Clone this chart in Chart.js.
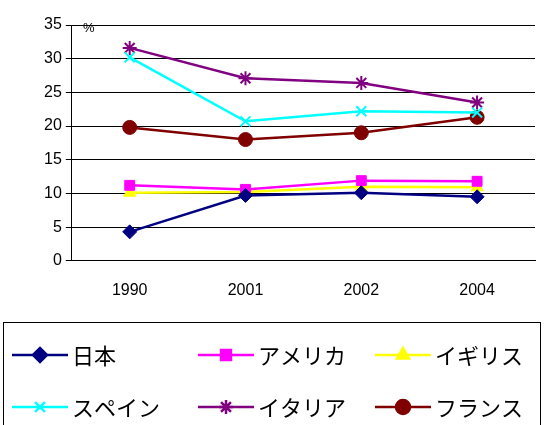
<!DOCTYPE html><html><head><meta charset="utf-8">
<script src="https://cdn.jsdelivr.net/npm/chart.js"></script>
<style>body{margin:0;background:#fff}#w{width:544px;height:425px}</style></head><body>
<div id="w"><canvas id="c"></canvas></div>
<script>
const categories=['1990','2001','2002','2004'];
const names=['日本','アメリカ','イギリス','スペイン','イタリア','フランス'];
const japan=[4.3,9.7,10.1,9.5];
const usa=[11.2,10.6,11.9,11.8];
const uk=[10.1,10.2,11.0,10.9];
const spain=[30.2,20.7,22.2,22.0];
const italy=[31.6,27.1,26.4,23.5];
const france=[19.8,18.0,19.0,21.3];
const yTicks=[0,5,10,15,20,25,30,35];
const cfg=[
 [japan,'#000080','rectRot',7],[usa,'#FF00FF','rect',7],[uk,'#FFFF00','triangle',7],
 [spain,'#00FFFF','crossRot',7],[italy,'#800080','star',7],[france,'#800000','circle',7]];
const datasets=cfg.map((c,i)=>({label:names[i],data:c[0],borderColor:c[1],backgroundColor:c[1],
 pointStyle:c[2],pointRadius:c[3],pointBorderWidth:c[2]==='crossRot'||c[2]==='star'?2:1,borderWidth:2.5,
 pointBorderColor:c[1]}));
const legendPlugin={id:'lg',afterDraw(ch){const x=ch.ctx;x.save();
 x.strokeStyle='#000';x.lineWidth=1;x.strokeRect(3.5,322.5,537,110);
 const cols=[12,198,375],rows=[355,407];
 ch.data.datasets.forEach((d,i)=>{const lx=cols[i%3],ly=rows[Math.floor(i/3)];
  x.strokeStyle=d.borderColor;x.lineWidth=2.5;x.beginPath();x.moveTo(lx,ly);x.lineTo(lx+56,ly);x.stroke();
  x.fillStyle=d.backgroundColor;x.strokeStyle=d.pointBorderColor;
  Chart.helpers.drawPoint(x,{pointStyle:d.pointStyle,radius:7,borderWidth:d.pointBorderWidth},lx+28,ly);
  x.fillStyle='#000';x.font='22px "Noto Sans CJK JP"';x.textBaseline='middle';x.fillText(d.label,lx+60,ly+1);});
 x.font='13px "Liberation Sans"';x.fillStyle='#000';x.fillText('%',83,28);
 x.restore();}};
new Chart(document.getElementById('c'),{type:'line',data:{labels:categories,datasets},
 options:{responsive:true,maintainAspectRatio:false,animation:false,
 layout:{padding:{top:25,right:-4,bottom:113,left:40}},
 plugins:{legend:{display:false},tooltip:{enabled:false}},
 scales:{x:{offset:true,grid:{display:false,offset:true},border:{color:'#000'},
   ticks:{color:'#000',font:{family:'Liberation Sans',size:16},padding:12}},
  y:{min:0,max:35,afterBuildTicks:a=>{a.ticks=yTicks.map(v=>({value:v}))},
   grid:{color:'#000',drawTicks:true,tickLength:6},border:{color:'#000'},
   ticks:{color:'#000',font:{family:'Liberation Sans',size:16},padding:4}}}},
 plugins:[legendPlugin]});
</script></body></html>
